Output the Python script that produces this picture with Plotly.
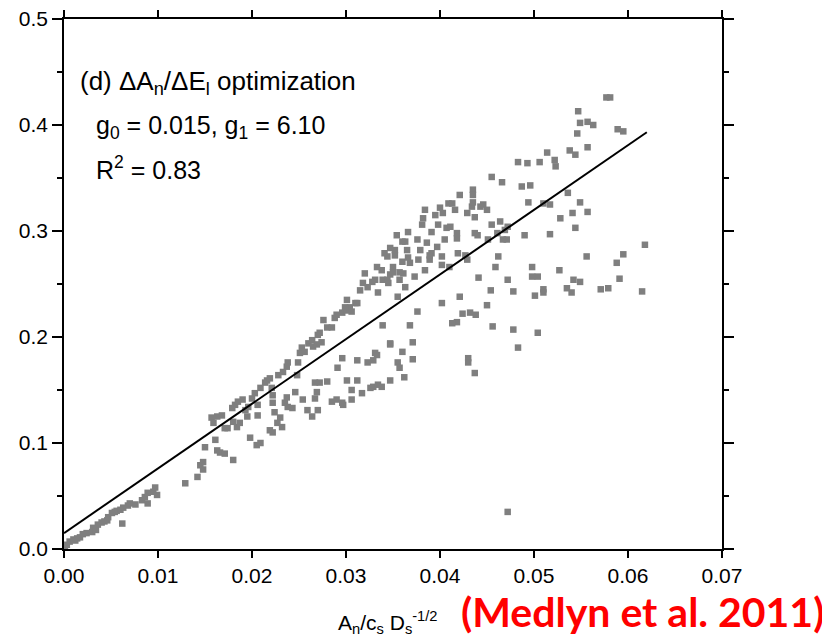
import plotly.graph_objects as go

# ---- data ----
g0 = 0.015
g1 = 6.10
fit_x = [0.0, 0.062]

x_obs = [
    # 0.00 - 0.01
    0.0001, 0.0003, 0.0006, 0.0010, 0.0012, 0.0014, 0.0017, 0.0020, 0.0024, 0.0030,
    0.0031, 0.0034, 0.0036, 0.0040, 0.0043, 0.0046, 0.0047, 0.0051, 0.0054, 0.0056,
    0.0060, 0.0062, 0.0063, 0.0068, 0.0070, 0.0076, 0.0083, 0.0086, 0.0089, 0.0089,
    0.0095, 0.0097, 0.0099,
    # 0.013 - 0.036
    0.0129, 0.0142, 0.0145, 0.0148, 0.0148, 0.0150, 0.0161, 0.0163, 0.0166, 0.0171,
    0.0180, 0.0157, 0.0159, 0.0163, 0.0168, 0.0171, 0.0174, 0.0179, 0.0182, 0.0185,
    0.0180, 0.0184, 0.0187, 0.0190, 0.0193, 0.0195, 0.0198, 0.0205, 0.0209, 0.0196,
    0.0200, 0.0203, 0.0206, 0.0206, 0.0209, 0.0214, 0.0216, 0.0219, 0.0221, 0.0222,
    0.0222, 0.0224, 0.0219, 0.0222, 0.0227, 0.0232, 0.0228, 0.0233, 0.0237, 0.0238,
    0.0230, 0.0235, 0.0237, 0.0238, 0.0243, 0.0246, 0.0248, 0.0249, 0.0251, 0.0253,
    0.0256, 0.0260, 0.0264, 0.0265, 0.0269, 0.0270, 0.0274, 0.0254, 0.0259, 0.0264,
    0.0267, 0.0269, 0.0267, 0.0270, 0.0272, 0.0276, 0.0280, 0.0285, 0.0288, 0.0290,
    0.0296, 0.0301, 0.0304, 0.0306, 0.0312, 0.0280, 0.0285, 0.0290, 0.0296, 0.0297,
    0.0291, 0.0296, 0.0301, 0.0306, 0.0306, 0.0312, 0.0312, 0.0317, 0.0323, 0.0326,
    0.0329, 0.0333, 0.0329, 0.0334, 0.0338, 0.0339, 0.0347, 0.0347, 0.0355,
    # upper band 0.027 - 0.041
    0.0272, 0.0299, 0.0301, 0.0310, 0.0315, 0.0318, 0.0320, 0.0323, 0.0328, 0.0331,
    0.0333, 0.0334, 0.0338, 0.0339, 0.0344, 0.0345, 0.0347, 0.0350, 0.0352, 0.0354,
    0.0355, 0.0357, 0.0360, 0.0361, 0.0363, 0.0363, 0.0365, 0.0366, 0.0366, 0.0368,
    0.0373, 0.0376, 0.0377, 0.0379, 0.0381, 0.0382, 0.0384, 0.0384, 0.0386, 0.0389,
    0.0391, 0.0391, 0.0395, 0.0397, 0.0398, 0.0400, 0.0402, 0.0402, 0.0403, 0.0405,
    0.0407, 0.0409, 0.0410, 0.0402, 0.0376, 0.0368, 0.0347, 0.0371, 0.0360, 0.0331,
    # 0.034 - 0.062
    0.0341, 0.0347, 0.0352, 0.0360, 0.0350, 0.0344, 0.0357, 0.0389, 0.0413, 0.0411,
    0.0416, 0.0418, 0.0418, 0.0421, 0.0419, 0.0427, 0.0429, 0.0429, 0.0434, 0.0435,
    0.0435, 0.0437, 0.0435, 0.0437, 0.0440, 0.0443, 0.0446, 0.0450, 0.0455, 0.0466,
    0.0455, 0.0464, 0.0461, 0.0469, 0.0472, 0.0471, 0.0467, 0.0462, 0.0459, 0.0451,
    0.0487, 0.0496, 0.0483, 0.0493, 0.0494, 0.0490, 0.0510, 0.0517, 0.0506, 0.0514,
    0.0522, 0.0523, 0.0538, 0.0544, 0.0547, 0.0549, 0.0546, 0.0557, 0.0563, 0.0557,
    0.0536, 0.0549, 0.0557, 0.0541, 0.0528, 0.0544, 0.0517, 0.0577, 0.0581, 0.0589,
    0.0595, 0.0618, 0.0595, 0.0588, 0.0591, 0.0615, 0.0579, 0.0571, 0.0556, 0.0549,
    0.0542, 0.0535, 0.0540, 0.0527, 0.0510, 0.0510, 0.0501, 0.0504, 0.0498, 0.0498,
    0.0478, 0.0472, 0.0454, 0.0441, 0.0450, 0.0456, 0.0478, 0.0504, 0.0483, 0.0421,
    0.0424, 0.0432, 0.0438, 0.0418, 0.0413, 0.0371, 0.0357, 0.0362, 0.0430, 0.0430,
    0.0437, 0.0472,
]

y_obs = [
    # 0.00 - 0.01
    0.002, 0.004, 0.007, 0.009, 0.008, 0.010, 0.011, 0.014, 0.015, 0.016,
    0.020, 0.018, 0.023, 0.025, 0.026, 0.027, 0.030, 0.034, 0.035, 0.036,
    0.037, 0.024, 0.039, 0.041, 0.043, 0.042, 0.046, 0.049, 0.043, 0.053,
    0.054, 0.058, 0.051,
    # 0.013 - 0.036
    0.062, 0.068, 0.079, 0.082, 0.075, 0.096, 0.103, 0.093, 0.091, 0.090,
    0.084, 0.124, 0.119, 0.125, 0.126, 0.114, 0.114, 0.133, 0.136, 0.139,
    0.120, 0.115, 0.119, 0.141, 0.131, 0.125, 0.105, 0.098, 0.100, 0.134,
    0.142, 0.147, 0.126, 0.136, 0.152, 0.157, 0.159, 0.161, 0.152, 0.145,
    0.138, 0.129, 0.112, 0.110, 0.119, 0.115, 0.164, 0.167, 0.172, 0.176,
    0.124, 0.138, 0.143, 0.134, 0.133, 0.148, 0.164, 0.176, 0.185, 0.190,
    0.186, 0.194, 0.197, 0.191, 0.193, 0.202, 0.195, 0.141, 0.131, 0.125,
    0.157, 0.148, 0.142, 0.131, 0.157, 0.216, 0.209, 0.209, 0.218, 0.221,
    0.223, 0.225, 0.228, 0.224, 0.232, 0.158, 0.139, 0.141, 0.138, 0.136,
    0.171, 0.180, 0.159, 0.150, 0.141, 0.159, 0.178, 0.147, 0.176, 0.152,
    0.178, 0.183, 0.153, 0.155, 0.153, 0.211, 0.194, 0.159, 0.176,
    # upper band 0.027 - 0.041
    0.204, 0.228, 0.235, 0.232, 0.244, 0.251, 0.260, 0.247, 0.252, 0.254,
    0.266, 0.242, 0.263, 0.254, 0.276, 0.251, 0.259, 0.266, 0.277, 0.296,
    0.238, 0.254, 0.271, 0.260, 0.247, 0.290, 0.282, 0.275, 0.299, 0.270,
    0.257, 0.292, 0.273, 0.282, 0.306, 0.312, 0.320, 0.263, 0.289, 0.273,
    0.279, 0.299, 0.315, 0.285, 0.306, 0.322, 0.268, 0.276, 0.317, 0.292,
    0.303, 0.326, 0.266, 0.232, 0.224, 0.211, 0.193, 0.195, 0.186, 0.185,
    # 0.034 - 0.062
    0.279, 0.284, 0.282, 0.290, 0.261, 0.254, 0.261, 0.277, 0.326, 0.304,
    0.320, 0.298, 0.293, 0.334, 0.279, 0.277, 0.273, 0.317, 0.323, 0.339,
    0.334, 0.313, 0.327, 0.298, 0.296, 0.323, 0.325, 0.320, 0.351, 0.346,
    0.306, 0.309, 0.298, 0.301, 0.304, 0.292, 0.292, 0.276, 0.266, 0.292,
    0.342, 0.343, 0.365, 0.364, 0.327, 0.296, 0.326, 0.325, 0.365, 0.374,
    0.367, 0.361, 0.376, 0.372, 0.413, 0.402, 0.392, 0.403, 0.400, 0.379,
    0.336, 0.327, 0.318, 0.317, 0.312, 0.303, 0.297, 0.426, 0.426, 0.396,
    0.394, 0.287, 0.278, 0.270, 0.255, 0.243, 0.246, 0.245, 0.276, 0.252,
    0.254, 0.246, 0.242, 0.263, 0.245, 0.242, 0.239, 0.257, 0.257, 0.266,
    0.243, 0.254, 0.244, 0.256, 0.230, 0.210, 0.207, 0.204, 0.190, 0.238,
    0.222, 0.223, 0.221, 0.214, 0.213, 0.179, 0.171, 0.162, 0.180, 0.176,
    0.166, 0.035,
]

x_ticks = [0.00, 0.01, 0.02, 0.03, 0.04, 0.05, 0.06, 0.07]
y_ticks = [0.0, 0.1, 0.2, 0.3, 0.4, 0.5]

panel_label = "(d) \u0394A<sub>n</sub>/\u0394E<sub>l</sub> optimization"
param_label = "g<sub>0</sub> = 0.015, g<sub>1</sub> = 6.10"
r2_label = "R<sup>2</sup> = 0.83"
x_title = "A<sub>n</sub>/c<sub>s</sub> D<sub>s</sub><sup>-1/2</sup>"
source_label = "(Medlyn et al. 2011)"

fit_y = [g0 + g1 * v for v in fit_x]

TICK_FONT = dict(family="Liberation Sans Narrow, Arial Narrow, Liberation Sans, Arial", size=21, color="black")
TEXT_FONT = dict(family="Liberation Sans, Arial, sans-serif", size=25, color="black")

fig = go.Figure()
fig.add_trace(go.Scatter(
    x=x_obs, y=y_obs, mode="markers",
    marker=dict(symbol="square", size=6.5, color="#7f7f7f", line=dict(width=0)),
    hoverinfo="skip", showlegend=False,
))
fig.add_trace(go.Scatter(
    x=fit_x, y=fit_y, mode="lines",
    line=dict(color="black", width=2),
    hoverinfo="skip", showlegend=False,
))

axis_common = dict(
    showline=True, linecolor="black", linewidth=1.5, mirror="ticks",
    ticks="outside", tickcolor="black", tickwidth=1.5,
    showgrid=False, zeroline=False, tickfont=TICK_FONT, automargin=False,
    ticklabeloverflow="allow",
)

# the page body adds an 8px offset, so the figure is 8px smaller than the window
fig.update_layout(
    width=822, height=629,
    margin=dict(l=56, r=108, t=11, b=88),
    paper_bgcolor="white", plot_bgcolor="white",
    showlegend=False,
    xaxis=dict(range=[0, 0.07], tickvals=x_ticks,
               ticktext=[f"{v:.2f}" for v in x_ticks], ticklen=7, **axis_common),
    yaxis=dict(range=[0, 0.5], tickvals=y_ticks,
               ticktext=[f"{v:.1f}" for v in y_ticks], ticklen=10,
               minor=dict(dtick=0.05, tick0=0, ticks="outside", ticklen=5,
                          tickwidth=1.5, tickcolor="black", showgrid=False),
               **axis_common),
    annotations=[
        dict(text=panel_label, xref="paper", yref="paper", x=0.022, y=0.881,
             xanchor="left", yanchor="middle", showarrow=False,
             font=dict(family="Liberation Sans, Arial, sans-serif", size=26, color="black")),
        dict(text=param_label, xref="paper", yref="paper", x=0.045, y=0.797,
             xanchor="left", yanchor="middle", showarrow=False, font=TEXT_FONT),
        dict(text=r2_label, xref="paper", yref="paper", x=0.045, y=0.718,
             xanchor="left", yanchor="middle", showarrow=False, font=TEXT_FONT),
        dict(text=x_title, xref="paper", yref="paper", x=0.493, y=-0.138,
             xanchor="center", yanchor="middle", showarrow=False,
             font=dict(family="Liberation Sans, Arial, sans-serif", size=21, color="black")),
        dict(text=source_label, xref="paper", yref="paper", x=1.158, y=-0.117,
             xanchor="right", yanchor="middle", showarrow=False,
             font=dict(family="Lato, Open Sans, sans-serif", size=41, color="#ff0000", weight="bold")),
    ],
)

fig.write_html("out.html")
